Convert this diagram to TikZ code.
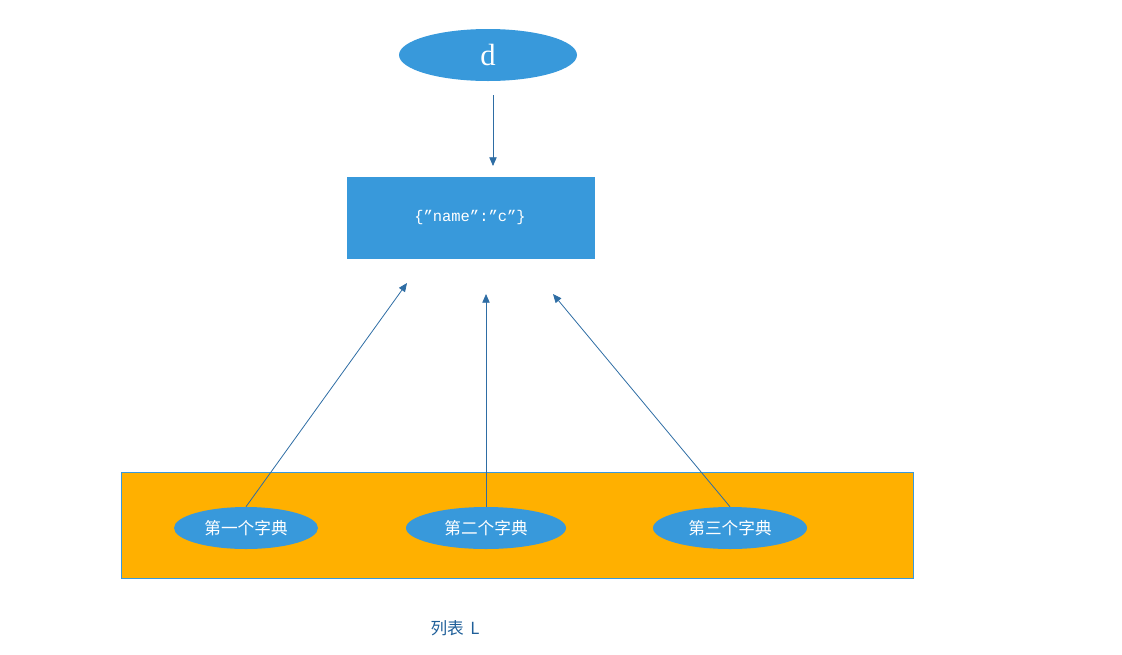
\documentclass[tikz,border=0pt]{standalone}
\usepackage{fontspec}
\newfontfamily\cjk{Noto Sans CJK SC}
\newfontfamily\monof{Liberation Mono}
\setmainfont{Liberation Serif}
\usetikzlibrary{shapes.geometric,arrows.meta}
\definecolor{nodeblue}{HTML}{3899DB}
\definecolor{arrowblue}{HTML}{2E6DA4}
\definecolor{orangebg}{HTML}{FFB000}
\definecolor{labelblue}{HTML}{1F5F99}
\tikzset{
  blueell/.style={ellipse, fill=nodeblue, inner sep=0pt, text=white},
  conn/.style={draw=arrowblue, line width=0.6pt, -{Triangle[length=6.5pt,width=5.5pt]}},
}
\begin{document}
\begin{tikzpicture}[x=0.75pt,y=-0.75pt]
\useasboundingbox (0,0) rectangle (1122,654);
% top ellipse
\node[blueell, minimum width=178*0.75pt, minimum height=52*0.75pt, font=\fontsize{23}{26}\selectfont] (d) at (488,55) {d};
% dict box
\node[fill=nodeblue, minimum width=248*0.75pt, minimum height=82*0.75pt, inner sep=0pt] (box) at (471,218) {};
\node[text=white, font=\monof\fontsize{11.6}{13}\selectfont, inner sep=0pt] (boxtext) at (470,217) {\{”name”:”c”\}};
% list rectangle
\node[fill=orangebg, draw=nodeblue, line width=0.6pt, minimum width=792*0.75pt, minimum height=106*0.75pt, inner sep=0pt] (list) at (517,525) {};
% dict ellipses
\node[blueell, minimum width=144*0.75pt, minimum height=42*0.75pt, font=\cjk\fontsize{12.5}{14}\selectfont] (e1) at (246,528) {第一个字典};
\node[blueell, minimum width=160*0.75pt, minimum height=42*0.75pt, font=\cjk\fontsize{12.5}{14}\selectfont] (e2) at (486,528) {第二个字典};
\node[blueell, minimum width=154*0.75pt, minimum height=42*0.75pt, font=\cjk\fontsize{12.5}{14}\selectfont] (e3) at (730,528) {第三个字典};
% label
\node[text=labelblue, font=\cjk\fontsize{12.5}{14}\selectfont, inner sep=0pt] (lbl) at (455,628) {列表 \,L};
% connectors
\coordinate (dtop) at (493,95);
\coordinate (dend) at (493,166);
\coordinate (t1) at (407,283);
\coordinate (t2) at (486,294);
\coordinate (t3) at (553,294);
\draw[conn] (dtop) -- (dend);
\draw[conn] (e1.north) -- (t1);
\draw[conn] (e2.north) -- (t2);
\draw[conn] (e3.north) -- (t3);
\end{tikzpicture}
\end{document}
